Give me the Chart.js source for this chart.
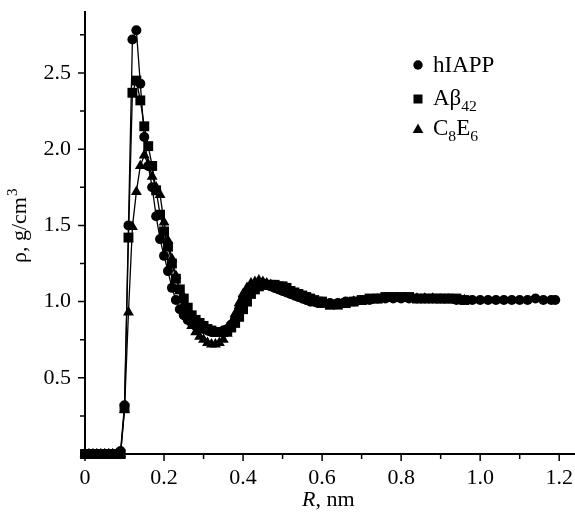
<!DOCTYPE html>
<html>
<head>
<meta charset="utf-8">
<script src="https://cdn.jsdelivr.net/npm/chart.js@4.4.1/dist/chart.umd.min.js"></script>
<style>
  body { margin: 0; background: #fff; }
</style>
</head>
<body>
<canvas id="chart" width="575" height="516"></canvas>
<script>
// R, nm (shared grid)
const radius = [
  0.00, 0.01, 0.02, 0.03, 0.04, 0.05, 0.06, 0.07, 0.08, 0.09,
  0.10, 0.11, 0.12, 0.13, 0.14, 0.15, 0.16, 0.17, 0.18, 0.19,
  0.20, 0.21, 0.22, 0.23, 0.24, 0.25, 0.26, 0.27, 0.28, 0.29,
  0.30, 0.31, 0.32, 0.33, 0.34, 0.35, 0.36, 0.37, 0.38, 0.39,
  0.40, 0.41, 0.42, 0.43, 0.44, 0.45, 0.46, 0.47, 0.48, 0.49,
  0.50, 0.51, 0.52, 0.53, 0.54, 0.55, 0.56, 0.57, 0.58, 0.59,
  0.60, 0.62, 0.64, 0.66, 0.68, 0.70, 0.72, 0.74, 0.76, 0.78,
  0.80, 0.82, 0.84, 0.86, 0.88, 0.90, 0.92, 0.94, 0.96, 0.98,
  1.00, 1.02, 1.04, 1.06, 1.08, 1.10, 1.12, 1.14, 1.16, 1.18, 1.19
];

// density, g/cm3
const hiapp = [
  0, 0, 0, 0, 0, 0, 0, 0, 0, 0.02,
  0.32, 1.50, 2.72, 2.78, 2.43, 2.08, 1.89, 1.75, 1.56, 1.41,
  1.30, 1.20, 1.09, 1.01, 0.95, 0.91, 0.88, 0.86, 0.84, 0.83,
  0.82, 0.81, 0.80, 0.80, 0.80, 0.81, 0.82, 0.85, 0.89, 0.95,
  1.02, 1.06, 1.09, 1.11, 1.12, 1.12, 1.11, 1.10, 1.09, 1.08,
  1.07, 1.06, 1.05, 1.04, 1.03, 1.02, 1.01, 1.00, 1.00, 0.99,
  0.99, 0.99, 0.99, 1.00, 1.00, 1.01, 1.01, 1.02, 1.02, 1.02,
  1.02, 1.02, 1.02, 1.02, 1.02, 1.02, 1.02, 1.01, 1.01, 1.01,
  1.01, 1.01, 1.01, 1.01, 1.01, 1.01, 1.01, 1.02, 1.01, 1.01, 1.01
];

const abeta42 = [
  0, 0, 0, 0, 0, 0, 0, 0, 0, 0,
  0.30, 1.42, 2.37, 2.45, 2.32, 2.15, 2.02, 1.89, 1.73, 1.57,
  1.46, 1.36, 1.25, 1.15, 1.08, 1.02, 0.96, 0.91, 0.88, 0.86,
  0.84, 0.82, 0.81, 0.80, 0.80, 0.80, 0.81, 0.83, 0.86, 0.90,
  0.95, 1.00, 1.05, 1.08, 1.10, 1.11, 1.11, 1.11, 1.11, 1.10,
  1.10, 1.09, 1.07, 1.06, 1.05, 1.04, 1.03, 1.02, 1.01, 1.00,
  1.00, 0.98, 0.98, 0.99, 1.00, 1.01, 1.02, 1.02, 1.03, 1.03,
  1.03, 1.03, 1.02, 1.02, 1.02, 1.02, 1.02, 1.02, 1.01
];

const c8e6 = [
  0, 0, 0, 0, 0, 0, 0, 0, 0, 0,
  0.29, 0.93, 1.49, 1.72, 1.89, 1.96, 1.90, 1.82, 1.75, 1.70,
  1.52, 1.40, 1.28, 1.17, 1.07, 0.98, 0.90, 0.84, 0.80, 0.77,
  0.75, 0.73, 0.72, 0.72, 0.73, 0.75, 0.79, 0.85, 0.92, 0.99,
  1.05, 1.09, 1.12, 1.13, 1.14, 1.13, 1.12, 1.11, 1.10, 1.08,
  1.07, 1.06, 1.05, 1.04, 1.03, 1.02, 1.01, 1.00, 0.99, 0.99,
  0.98, 0.97, 0.98, 0.99, 1.00, 1.00, 1.01, 1.01, 1.02, 1.02,
  1.02, 1.02, 1.02, 1.02, 1.02, 1.01, 1.01, 1.01, 1.01
];

const xMajor = [0, 0.2, 0.4, 0.6, 0.8, 1.0, 1.2];
const xMinor = [0.1, 0.3, 0.5, 0.7, 0.9, 1.1];
const yMajor = [0.5, 1.0, 1.5, 2.0, 2.5];
const yMinor = [0.25, 0.75, 1.25, 1.75, 2.25, 2.75];

const FONT = "'Liberation Serif', 'Times New Roman', serif";

function points(values) {
  return values.map((v, i) => ({ x: radius[i], y: v }));
}

function series(label, values, style, r) {
  return {
    label,
    data: points(values),
    borderColor: '#000',
    backgroundColor: '#000',
    borderWidth: 1.3,
    pointStyle: style,
    pointRadius: r,
    pointBorderWidth: 0,
    pointBackgroundColor: '#000',
    tension: 0,
    clip: false
  };
}

function marker(ctx, style, x, y) {
  ctx.beginPath();
  if (style === 'circle') {
    ctx.arc(x, y, 4.7, 0, Math.PI * 2);
  } else if (style === 'rect') {
    ctx.rect(x - 4.5, y - 4.5, 9, 9);
  } else {
    ctx.moveTo(x, y - 5.5);
    ctx.lineTo(x + 5.3, y + 4);
    ctx.lineTo(x - 5.3, y + 4);
    ctx.closePath();
  }
  ctx.fill();
}

// text with subscript parts: [[text, isSub], ...]
function richText(ctx, parts, x, y, size) {
  parts.forEach(([txt, sub]) => {
    ctx.font = (sub ? size * 0.68 : size) + 'px ' + FONT;
    ctx.fillText(txt, x, sub ? y + 6 : y);
    x += ctx.measureText(txt).width;
  });
}

const decor = {
  id: 'decor',
  afterDraw(chart) {
    const { ctx, chartArea } = chart;
    const { x, y } = chart.scales;
    ctx.save();
    ctx.strokeStyle = '#000';
    ctx.fillStyle = '#000';
    ctx.lineWidth = 1.5;

    ctx.beginPath();
    xMajor.forEach(v => { const p = x.getPixelForValue(v); ctx.moveTo(p, chartArea.bottom); ctx.lineTo(p, chartArea.bottom + 7); });
    xMinor.forEach(v => { const p = x.getPixelForValue(v); ctx.moveTo(p, chartArea.bottom); ctx.lineTo(p, chartArea.bottom + 5); });
    yMajor.forEach(v => { const p = y.getPixelForValue(v); ctx.moveTo(chartArea.left, p); ctx.lineTo(chartArea.left - 7, p); });
    yMinor.forEach(v => { const p = y.getPixelForValue(v); ctx.moveTo(chartArea.left, p); ctx.lineTo(chartArea.left - 5, p); });
    ctx.stroke();

    // x title
    ctx.textBaseline = 'alphabetic';
    ctx.textAlign = 'left';
    ctx.font = 'italic 22px ' + FONT;
    let tx = 302;
    ctx.fillText('R', tx, 506);
    tx += ctx.measureText('R').width;
    ctx.font = '22px ' + FONT;
    ctx.fillText(', nm', tx, 506);

    // y title
    ctx.save();
    ctx.translate(26, 263);
    ctx.rotate(-Math.PI / 2);
    ctx.font = '22px ' + FONT;
    ctx.fillText('ρ, g/cm', 0, 0);
    const w = ctx.measureText('ρ, g/cm').width;
    ctx.font = '15px ' + FONT;
    ctx.fillText('3', w + 1, -9);
    ctx.restore();

    // legend
    marker(ctx, 'circle', 418, 65);
    marker(ctx, 'rect', 418, 99);
    marker(ctx, 'triangle', 418, 129);
    richText(ctx, [['hIAPP', false]], 433, 72, 23);
    richText(ctx, [['Aβ', false], ['42', true]], 433, 105, 23);
    richText(ctx, [['C', false], ['8', true], ['E', false], ['6', true]], 433, 135, 23);

    ctx.restore();
  }
};

new Chart(document.getElementById('chart').getContext('2d'), {
  type: 'line',
  data: {
    datasets: [
      series('hIAPP', hiapp, 'circle', 5),
      series('Aβ42', abeta42, 'rect', 7),
      series('C8E6', c8e6, 'triangle', 6.3)
    ]
  },
  options: {
    responsive: false,
    animation: false,
    events: [],
    layout: { autoPadding: false, padding: { top: 12, right: 0, left: 0, bottom: 0 } },
    plugins: {
      legend: { display: false },
      tooltip: { enabled: false }
    },
    scales: {
      x: {
        type: 'linear',
        min: 0,
        max: 1.24,
        afterBuildTicks: s => { s.ticks = xMajor.map(v => ({ value: v })); },
        afterFit: s => { s.height = 62; s.paddingLeft = 0; s.paddingRight = 0; },
        grid: { display: false, drawTicks: false },
        border: { display: true, color: '#000', width: 2 },
        ticks: {
          padding: 11,
          color: '#000',
          maxRotation: 0,
          font: { family: FONT, size: 22 },
          callback: v => (v === 0 ? '0' : v.toFixed(1))
        }
      },
      y: {
        min: 0,
        max: 2.9,
        afterBuildTicks: s => { s.ticks = yMajor.map(v => ({ value: v })); },
        afterFit: s => { s.width = 85; s.paddingTop = 0; s.paddingBottom = 0; },
        grid: { display: false, drawTicks: false },
        border: { display: true, color: '#000', width: 2 },
        ticks: {
          padding: 14,
          color: '#000',
          font: { family: FONT, size: 22 },
          callback: v => v.toFixed(1)
        }
      }
    }
  },
  plugins: [decor]
});
</script>
</body>
</html>
